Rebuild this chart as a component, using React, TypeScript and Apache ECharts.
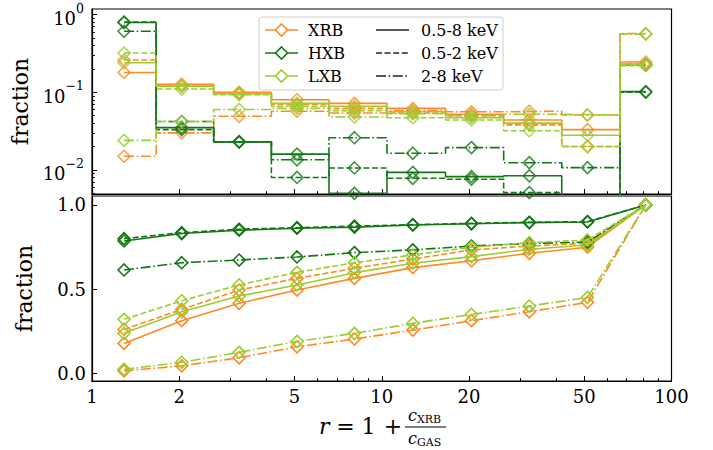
import React, { useEffect, useRef } from "react";
import * as echarts from "echarts";

// Bin centres of r = 1 + c_XRB / c_GAS
const rCenters = [1.29, 2.04, 3.22, 5.1, 8.05, 12.8, 20.4, 32.3, 51.3, 81.5];

// Top panel: fraction of sources in each bin
const xrbFull = [0.18, 0.127, 0.1, 0.08, 0.072, 0.062, 0.052, 0.044, 0.033, 0.245];
const xrbSoft = [0.26, 0.12, 0.098, 0.07, 0.062, 0.054, 0.05, 0.038, 0.02, 0.23];
const xrbHard = [0.015, 0.03, 0.049, 0.057, 0.054, 0.058, 0.056, 0.057, 0.051, 0.57];
const hxbFull = [0.79, 0.035, 0.023, 0.016, 0.005, 0.0093, 0.0082, 0.0084, 0, 0.102];
const hxbSoft = [0.8, 0.033, 0.023, 0.008, 0.0106, 0.0078, 0.0076, 0.0051, 0, 0.1];
const hxbHard = [0.61, 0.042, 0.023, 0.0135, 0.026, 0.0164, 0.0194, 0.0124, 0.0107, 0.225];
const lxbFull = [0.24, 0.12, 0.095, 0.072, 0.066, 0.056, 0.047, 0.04, 0.028, 0.23];
const lxbSoft = [0.32, 0.11, 0.093, 0.066, 0.058, 0.047, 0.044, 0.032, 0.02, 0.22];
const lxbHard = [0.024, 0.042, 0.06, 0.062, 0.048, 0.053, 0.05, 0.052, 0.051, 0.56];

// Bottom panel: cumulative fraction
const xrbFullCum = [0.178, 0.313, 0.416, 0.495, 0.564, 0.628, 0.669, 0.713, 0.749, 1.0];
const xrbSoftCum = [0.261, 0.38, 0.495, 0.564, 0.624, 0.679, 0.733, 0.756, 0.772, 1.0];
const xrbHardCum = [0.015, 0.045, 0.093, 0.158, 0.204, 0.257, 0.313, 0.366, 0.422, 1.0];
const hxbFullCum = [0.786, 0.83, 0.85, 0.862, 0.868, 0.881, 0.888, 0.895, 0.899, 1.0];
const hxbSoftCum = [0.8, 0.835, 0.856, 0.865, 0.874, 0.883, 0.891, 0.897, 0.901, 1.0];
const hxbHardCum = [0.614, 0.657, 0.673, 0.691, 0.717, 0.733, 0.756, 0.771, 0.78, 1.0];
const lxbFullCum = [0.238, 0.366, 0.459, 0.525, 0.598, 0.654, 0.693, 0.737, 0.762, 1.0];
const lxbSoftCum = [0.321, 0.431, 0.525, 0.6, 0.657, 0.703, 0.749, 0.776, 0.792, 1.0];
const lxbHardCum = [0.024, 0.066, 0.125, 0.19, 0.238, 0.297, 0.35, 0.4, 0.451, 1.0];

// Ticks
const xMajorTicks = [1, 2, 5, 10, 20, 50, 100];
const xMinorTicks = [3, 4, 6, 7, 8, 9, 30, 40, 60, 70, 80, 90];
const yLogMajor = [0.01, 0.1, 1];
const yLogMinor = [0.005, 0.006, 0.007, 0.008, 0.009, 0.02, 0.03, 0.04, 0.05, 0.06, 0.07, 0.08, 0.09, 0.2, 0.3, 0.4, 0.5, 0.6, 0.7, 0.8, 0.9];
const yLinMajor = [0, 0.5, 1.0];

const classNames = ["XRB", "HXB", "LXB"];
const bandNames = ["0.5-8 keV", "0.5-2 keV", "2-8 keV"];
const classColors = ["#ff8a24", "#137813", "#9acd32"];

const FONT = "DejaVu Serif";
const TICK_FS = 18;
const LW = 1.6;
const dashStyles: any[] = ["solid", [6, 2.6], [10, 2.6, 1.6, 2.6]];
const LOG_FLOOR = 1e-4;

const topSets = [
  [xrbFull, xrbSoft, xrbHard],
  [hxbFull, hxbSoft, hxbHard],
  [lxbFull, lxbSoft, lxbHard],
];
const cumSets = [
  [xrbFullCum, xrbSoftCum, xrbHardCum],
  [hxbFullCum, hxbSoftCum, hxbHardCum],
  [lxbFullCum, lxbSoftCum, lxbHardCum],
];

// matplotlib "steps-mid": transitions at the linear midpoint between centres
function stepPoints(xs: number[], ys: number[]) {
  const v = (y: number) => (y > 0 ? y : LOG_FLOOR);
  const pts: number[][] = [[xs[0], v(ys[0])]];
  for (let i = 1; i < xs.length; i++) {
    const mid = (xs[i - 1] + xs[i]) / 2;
    pts.push([mid, v(ys[i - 1])]);
    pts.push([mid, v(ys[i])]);
  }
  pts.push([xs[xs.length - 1], v(ys[ys.length - 1])]);
  return pts;
}

const GRID_LEFT = 92;
const GRID_W = 579.5;

function xAxisDef(gridIndex: number, major: boolean, showLabels: boolean) {
  return {
    type: "log",
    logBase: 10,
    gridIndex,
    min: 1,
    max: 100,
    position: "bottom",
    axisLine: { show: true, onZero: false, lineStyle: { color: "#000", width: 1.2 } },
    axisTick: {
      show: true,
      inside: true,
      length: major ? 5 : 2.8,
      customValues: major ? xMajorTicks : xMinorTicks,
      lineStyle: { color: "#000", width: 1 },
    },
    axisLabel: {
      show: showLabels,
      customValues: xMajorTicks,
      margin: 6,
      fontSize: TICK_FS,
      fontFamily: FONT,
      color: "#000",
      formatter: (v: number) => String(Math.round(v)),
    },
    splitLine: { show: false },
    minorTick: { show: false },
    minorSplitLine: { show: false },
  };
}

function buildOption() {
  const series: any[] = [];
  classNames.forEach((cn, ci) => {
    const color = classColors[ci];
    bandNames.forEach((bn, bi) => {
      const vals = topSets[ci][bi];
      series.push({
        name: `${cn} ${bn} step`,
        type: "line",
        xAxisIndex: 0,
        yAxisIndex: 0,
        data: stepPoints(rCenters, vals),
        symbol: "none",
        showSymbol: false,
        clip: true,
        silent: true,
        z: 2 + ci,
        lineStyle: { color, width: LW, type: dashStyles[bi] },
      });
      series.push({
        name: `${cn} ${bn} markers`,
        type: "scatter",
        xAxisIndex: 0,
        yAxisIndex: 0,
        data: rCenters.map((x, i) => [x, vals[i]]).filter((p) => p[1] > 0),
        symbol: "diamond",
        symbolSize: 12,
        clip: true,
        silent: true,
        z: 2 + ci,
        itemStyle: { color: "rgba(0,0,0,0)", borderColor: color, borderWidth: LW },
      });
      const cum = cumSets[ci][bi];
      series.push({
        name: `${cn} ${bn} cumulative`,
        type: "line",
        xAxisIndex: 2,
        yAxisIndex: 2,
        data: rCenters.map((x, i) => [x, cum[i]]),
        symbol: "diamond",
        symbolSize: 12,
        showSymbol: true,
        showAllSymbol: true,
        silent: true,
        z: 2 + ci,
        lineStyle: { color, width: LW, type: dashStyles[bi] },
        itemStyle: { color: "rgba(0,0,0,0)", borderColor: color, borderWidth: LW },
      });
    });
  });

  // Legend drawn as graphic elements
  const legendEls: any[] = [];
  const LZ = 100;
  legendEls.push({
    type: "rect",
    z: LZ,
    shape: { x: 259, y: 17, width: 244, height: 73, r: 3 },
    style: { fill: "rgba(255,255,255,0.85)", stroke: "#cccccc", lineWidth: 1 },
  });
  const rowY = [30, 53, 76];
  classNames.forEach((cn, i) => {
    const y = rowY[i];
    const c = classColors[i];
    legendEls.push({
      type: "line",
      z: LZ + 1,
      shape: { x1: 265, y1: y, x2: 298, y2: y },
      style: { stroke: c, lineWidth: LW },
    });
    legendEls.push({
      type: "polygon",
      z: LZ + 1,
      shape: { points: [[281.5, y - 6], [287.5, y], [281.5, y + 6], [275.5, y]] },
      style: { fill: "#fff", stroke: c, lineWidth: LW },
    });
    legendEls.push({
      type: "text",
      z: LZ + 1,
      x: 308,
      y,
      style: { text: cn, fontFamily: FONT, fontSize: 16, fill: "#000", align: "left", verticalAlign: "middle", textAlign: "left", textVerticalAlign: "middle" },
    });
  });
  bandNames.forEach((bn, i) => {
    const y = rowY[i];
    const d = dashStyles[i];
    legendEls.push({
      type: "line",
      z: LZ + 1,
      shape: { x1: 376, y1: y, x2: 409, y2: y },
      style: { stroke: "#222", lineWidth: LW, lineDash: d === "solid" ? null : d },
    });
    legendEls.push({
      type: "text",
      z: LZ + 1,
      x: 421,
      y,
      style: { text: bn, fontFamily: FONT, fontSize: 16, fill: "#000", align: "left", verticalAlign: "middle", textAlign: "left", textVerticalAlign: "middle" },
    });
  });

  const txt = (text: string, x: number, y: number, size: number, italic: boolean, align = "left") => ({
    type: "text",
    z: LZ,
    x,
    y,
    style: {
      text,
      fontFamily: FONT,
      fontSize: size,
      fontStyle: italic ? "italic" : "normal",
      fill: "#000",
      align,
      verticalAlign: "middle",
      textAlign: align,
      textVerticalAlign: "middle",
    },
  });

  const xlabelEls: any[] = [
    txt("r", 319, 426, 22, true),
    txt("=", 345.5, 426, 22, false, "center"),
    txt("1", 368.5, 426, 22, false, "center"),
    txt("+", 393, 426, 22, false, "center"),
    {
      type: "line",
      z: LZ,
      shape: { x1: 405, y1: 427, x2: 446, y2: 427 },
      style: { stroke: "#000", lineWidth: 1.1 },
    },
    txt("c", 408, 415, 16, true),
    txt("XRB", 417, 419, 11, false),
    txt("c", 408, 438, 16, true),
    txt("GAS", 417, 442, 11, false),
  ];

  return {
    animation: false,
    backgroundColor: "#fff",
    textStyle: { fontFamily: FONT },
    grid: [
      { left: GRID_LEFT, top: 9, width: GRID_W, height: 185, show: true, borderColor: "#000", borderWidth: 1.2, backgroundColor: "transparent", outerBoundsMode: "none" },
      { left: GRID_LEFT, top: 196, width: GRID_W, height: 185, show: true, borderColor: "#000", borderWidth: 1.2, backgroundColor: "transparent", outerBoundsMode: "none" },
    ],
    xAxis: [xAxisDef(0, true, false), xAxisDef(0, false, false), xAxisDef(1, true, true), xAxisDef(1, false, false)],
    yAxis: [
      {
        type: "log",
        logBase: 10,
        gridIndex: 0,
        min: 0.0049,
        max: 1.18,
        position: "left",
        name: "fraction",
        nameLocation: "middle",
        nameGap: 57,
        nameTextStyle: { fontSize: 22, fontFamily: FONT, color: "#000" },
        axisLine: { show: true, lineStyle: { color: "#000", width: 1.2 } },
        axisTick: { show: true, inside: true, length: 5, customValues: yLogMajor, lineStyle: { color: "#000", width: 1 } },
        axisLabel: {
          show: true,
          customValues: yLogMajor,
          margin: 8,
          formatter: (v: number) => {
            const e = Math.round(Math.log10(v));
            return `{b|10}{s|${e < 0 ? "\u2212" + -e : e}}`;
          },
          rich: {
            b: { fontSize: TICK_FS, fontFamily: FONT, color: "#000", lineHeight: 26, verticalAlign: "bottom" },
            s: { fontSize: 12.5, fontFamily: FONT, color: "#000", lineHeight: 14, verticalAlign: "top" },
          },
        },
        splitLine: { show: false },
      },
      {
        type: "log",
        logBase: 10,
        gridIndex: 0,
        min: 0.0049,
        max: 1.18,
        position: "left",
        axisLine: { show: false },
        axisTick: { show: true, inside: true, length: 2.8, customValues: yLogMinor, lineStyle: { color: "#000", width: 1 } },
        axisLabel: { show: false },
        splitLine: { show: false },
      },
      {
        type: "value",
        gridIndex: 1,
        min: -0.045,
        max: 1.053,
        position: "left",
        name: "fraction",
        nameLocation: "middle",
        nameGap: 57,
        nameTextStyle: { fontSize: 22, fontFamily: FONT, color: "#000" },
        axisLine: { show: true, onZero: false, lineStyle: { color: "#000", width: 1.2 } },
        axisTick: { show: true, inside: true, length: 5, customValues: yLinMajor, lineStyle: { color: "#000", width: 1 } },
        axisLabel: {
          show: true,
          customValues: yLinMajor,
          margin: 6,
          fontSize: TICK_FS,
          fontFamily: FONT,
          color: "#000",
          formatter: (v: number) => v.toFixed(1),
        },
        splitLine: { show: false },
      },
    ],
    series,
    graphic: [...legendEls, ...xlabelEls],
  };
}

export default function App() {
  const ref = useRef<HTMLDivElement>(null);
  useEffect(() => {
    const chart = echarts.init(ref.current as HTMLDivElement, null, { renderer: "svg" });
    chart.setOption(buildOption() as any);
    return () => chart.dispose();
  }, []);
  return (
    <div
      ref={ref}
      style={{ position: "fixed", left: 0, top: 0, width: 713, height: 450, background: "#fff" }}
    />
  );
}
